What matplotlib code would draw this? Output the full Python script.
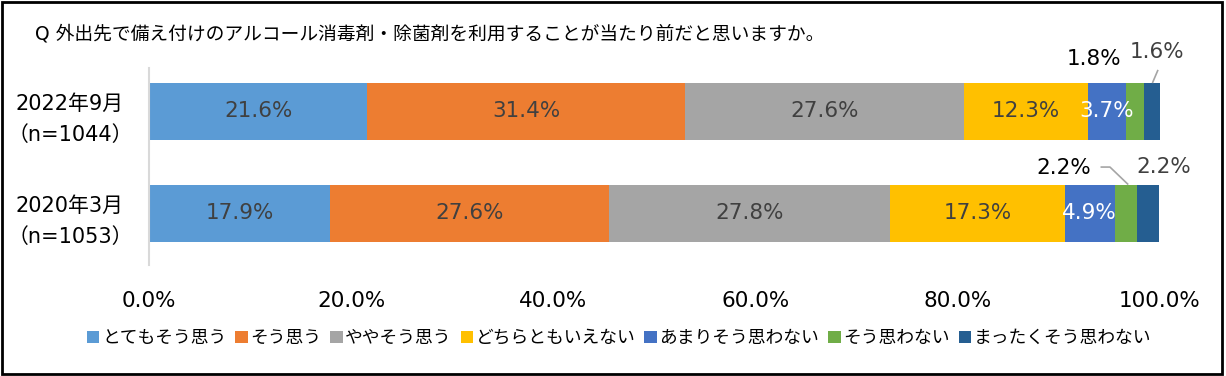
import matplotlib.pyplot as plt
from matplotlib.patches import Rectangle

plt.rcParams['font.family'] = ['DejaVu Sans', 'Noto Sans CJK JP']

title = 'Q 外出先で備え付けのアルコール消毒剤・除菌剤を利用することが当たり前だと思いますか。'
periods = ['2022年9月\n（n=1044）', '2020年3月\n（n=1053）']
answers = ['とてもそう思う', 'そう思う', 'ややそう思う', 'どちらともいえない',
           'あまりそう思わない', 'そう思わない', 'まったくそう思わない']
values_2022 = [21.6, 31.4, 27.6, 12.3, 3.7, 1.8, 1.6]
values_2020 = [17.9, 27.6, 27.8, 17.3, 4.9, 2.2, 2.2]
colors = ['#5B9BD5', '#ED7D31', '#A5A5A5', '#FFC000', '#4472C4', '#70AD47', '#255E91']
label_colors = ['#404040', '#404040', '#404040', '#404040', 'white', None, None]
fs = 15.5

fig = plt.figure(figsize=(12.26, 3.76), dpi=100)
ax = fig.add_axes([149 / 1226, 1 - 265 / 376, 1011 / 1226, 197 / 376])

ypos = [1, 0]
for y, vals in zip(ypos, [values_2022, values_2020]):
    left = 0
    for i, v in enumerate(vals):
        ax.barh(y, v, left=left, height=0.56, color=colors[i],
                label=answers[i] if y == 1 else None)
        if label_colors[i] is not None:
            ax.text(left + v / 2, y, f'{v:.1f}%', ha='center', va='center',
                    fontsize=fs, color=label_colors[i])
        left += v

# small segments labelled outside the bars
s22 = sum(values_2022[:5])
ax.text(s22 - 3.1, 1.514, f'{values_2022[5]:.1f}%',
        ha='center', va='center', fontsize=fs, color='black')
e22 = s22 + values_2022[5]
ax.text(e22 + 1.35, 1.586, f'{values_2022[6]:.1f}%',
        ha='center', va='center', fontsize=fs, color='#404040')
ax.plot([e22 + 0.88, e22 + 1.37], [1.286, 1.40], color='#A5A5A5', lw=1.2)

s20 = sum(values_2020[:5])
ax.text(s20 - 5.0, 0.446, f'{values_2020[5]:.1f}%',
        ha='center', va='center', fontsize=fs, color='black')
ax.plot([s20 - 1.3, s20 - 0.45, s20 + values_2020[5] / 2 + 0.2], [0.455, 0.455, 0.289],
        color='#A5A5A5', lw=1.2)
e20 = s20 + values_2020[5]
ax.text(e20 + 2.7, 0.458, f'{values_2020[6]:.1f}%',
        ha='center', va='center', fontsize=fs, color='#404040')

ax.set_xlim(0, 100)
ax.set_ylim(-0.505, 1.426)
ax.set_yticks(ypos)
ax.set_yticklabels(periods, fontsize=15, linespacing=1.7, ha='center')
ax.set_xticks(range(0, 101, 20))
ax.set_xticklabels([f'{t:.1f}%' for t in range(0, 101, 20)], fontsize=fs)
ax.tick_params(axis='x', length=0, pad=19)
ax.tick_params(axis='y', length=0, pad=57)
for s in ['top', 'right', 'bottom']:
    ax.spines[s].set_visible(False)
ax.spines['left'].set_color('#D9D9D9')
ax.spines['left'].set_linewidth(1.5)

fig.text(35 / 1226, 1 - 34 / 376, title, fontsize=13.5, va='center', ha='left')

fig.legend(loc='center', bbox_to_anchor=(0.505, 1 - 338 / 376), ncol=7,
           frameon=False, fontsize=12.8, handlelength=0.7, handleheight=0.7,
           handletextpad=0.15, columnspacing=0.5)

fig.patches.append(Rectangle((0.002, 0.004), 0.995, 0.992, transform=fig.transFigure,
                             fill=False, edgecolor='black', lw=2))

fig.savefig('out.png', dpi=100)
